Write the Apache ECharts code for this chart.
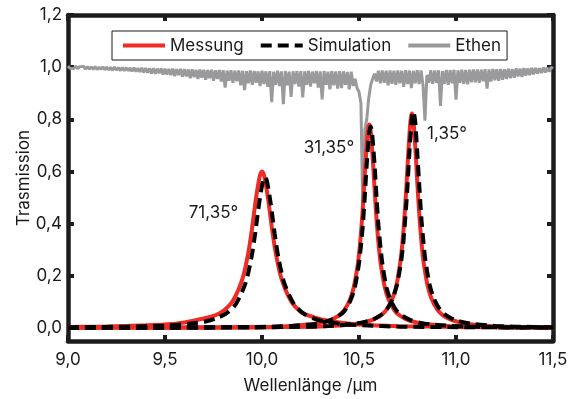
<!DOCTYPE html>
<html>
<head>
<meta charset="utf-8">
<script src="https://cdn.jsdelivr.net/npm/echarts@6/dist/echarts.min.js"></script>
<style>html,body{margin:0;padding:0;background:#fff}#c{width:578px;height:399px}</style>
</head>
<body>
<div id="c"></div>
<script>
// ---- Data ----
const xTicks = [9.0, 9.5, 10.0, 10.5, 11.0, 11.5];
const yTicks = [0, 0.2, 0.4, 0.6, 0.8, 1.0, 1.2];
const legendNames = ['Messung', 'Simulation', 'Ethen'];
const peakLabels = ['71,35°', '31,35°', '1,35°'];
const peakLabelPos = [[9.75, 0.44], [10.345, 0.69], [10.954, 0.745]];

// Ethen spectrum: x from 9.00 in steps of 0.01
const ethenStart = 9.0, ethenStep = 0.01;
const ethenY = [
1.004,0.996,1.003,0.995,1.004,0.994,1.002,0.995,1.003,0.993,
1.002,0.993,1.001,0.992,1.002,0.991,1.000,0.992,1.001,0.990,
1.000,0.990,0.999,0.988,1.000,0.989,0.998,0.987,0.999,0.986,
0.998,0.986,0.997,0.984,0.998,0.983,0.996,0.982,0.997,0.980,
0.996,0.979,0.995,0.976,0.996,0.975,0.994,0.977,0.995,0.972,
0.994,0.972,0.993,0.970,0.994,0.966,0.992,0.970,0.993,0.964,
0.992,0.965,0.991,0.958,0.992,0.962,0.990,0.955,0.991,0.960,
0.990,0.952,0.989,0.958,0.990,0.948,0.988,0.955,0.989,0.945,
0.988,0.922,0.987,0.948,0.988,0.940,0.986,0.946,0.987,0.930,
0.986,0.912,0.985,0.938,0.987,0.932,0.985,0.940,0.984,0.928,
0.986,0.935,0.984,0.925,0.985,0.866,0.983,0.932,0.986,0.928,
0.984,0.858,0.985,0.930,0.983,0.886,0.984,0.935,0.985,0.926,
0.985,0.884,0.984,0.932,0.986,0.926,0.983,0.938,0.985,0.922,
0.984,0.876,0.985,0.932,0.983,0.915,0.985,0.930,0.984,0.918,
0.985,0.920,0.984,0.932,0.982,0.915,0.983,0.928,0.955,0.920,
0.905,0.862,0.430,0.760,0.800,0.880,0.930,0.955,0.975,0.945,
0.986,0.938,0.987,0.940,0.986,0.930,0.987,0.936,0.986,0.932,
0.987,0.938,0.986,0.925,0.988,0.935,0.987,0.920,0.986,0.938,
0.988,0.935,0.987,0.930,0.795,0.970,0.940,0.988,0.936,0.987,
0.940,0.988,0.851,0.985,0.936,0.989,0.932,0.988,0.938,0.990,
0.875,0.988,0.940,0.990,0.936,0.989,0.934,0.990,0.942,0.991,
0.942,0.991,0.940,0.990,0.946,0.992,0.918,0.991,0.945,0.993,
0.950,0.992,0.948,0.993,0.952,0.992,0.955,0.994,0.958,0.993,
0.960,0.995,0.965,0.994,0.963,0.996,0.968,0.995,0.970,0.997,
0.973,0.997,0.976,0.996,0.978,0.998,0.980,0.998,0.983,0.999,
0.995
];

// Messung (measurement), peak 71,35°
const messA_x = [9.0,9.2,9.4,9.5,9.6,9.7,9.75,9.8,9.85,9.9,9.93,9.95,9.97,9.99,10.0,10.01,10.03,10.05,10.07,10.1,10.15,10.2,10.25,10.3,10.4,10.5,10.7,11.0,11.5];
const messA_y = [0.004,0.006,0.010,0.013,0.021,0.036,0.046,0.065,0.104,0.190,0.291,0.389,0.502,0.587,0.600,0.587,0.502,0.389,0.291,0.190,0.102,0.062,0.045,0.034,0.021,0.013,0.007,0.004,0.002];
// Messung, peak 31,35°
const messB_x = [9.0,9.5,9.8,10.053,10.153,10.253,10.303,10.353,10.393,10.423,10.453,10.473,10.493,10.503,10.513,10.523,10.533,10.543,10.548,10.553,10.558,10.563,10.573,10.583,10.593,10.603,10.613,10.633,10.653,10.683,10.713,10.753,10.803,10.853,10.953,11.053,11.3,11.5];
const messB_y = [0.001,0.002,0.003,0.005,0.008,0.014,0.020,0.030,0.046,0.067,0.108,0.156,0.240,0.304,0.390,0.499,0.624,0.734,0.768,0.780,0.768,0.734,0.624,0.499,0.390,0.304,0.240,0.156,0.108,0.067,0.046,0.030,0.020,0.014,0.008,0.005,0.002,0.001];
// Messung, peak 1,35°
const messC_x = [9.0,9.5,9.973,10.273,10.373,10.473,10.523,10.573,10.613,10.643,10.673,10.693,10.713,10.723,10.733,10.743,10.753,10.763,10.768,10.773,10.778,10.783,10.793,10.803,10.813,10.823,10.833,10.853,10.873,10.903,10.933,10.973,11.023,11.073,11.173,11.273,11.5];
const messC_y = [0.001,0.001,0.002,0.005,0.008,0.014,0.021,0.032,0.048,0.071,0.114,0.164,0.253,0.320,0.411,0.526,0.658,0.774,0.809,0.822,0.809,0.774,0.658,0.526,0.411,0.320,0.253,0.164,0.114,0.071,0.048,0.032,0.021,0.014,0.008,0.005,0.003];

// Simulation, peak 71,35°
const simA_x = [9.0,9.3,9.5,9.615,9.715,9.765,9.815,9.865,9.915,9.945,9.965,9.985,10.005,10.015,10.025,10.045,10.065,10.085,10.115,10.165,10.215,10.265,10.315,10.415,10.515,10.715,11.0,11.5];
const simA_y = [0.002,0.005,0.009,0.015,0.026,0.037,0.055,0.091,0.172,0.268,0.363,0.476,0.565,0.578,0.565,0.476,0.363,0.268,0.172,0.091,0.055,0.037,0.026,0.015,0.010,0.005,0.003,0.0015];
// Simulation, peak 31,35°
const simB_x = [9.0,9.5,9.8,10.045,10.148,10.251,10.302,10.354,10.395,10.426,10.457,10.478,10.498,10.508,10.519,10.529,10.539,10.550,10.555,10.560,10.565,10.570,10.581,10.591,10.601,10.612,10.622,10.642,10.663,10.694,10.725,10.766,10.818,10.869,10.972,11.075,11.3,11.5];
const simB_y = [0.001,0.002,0.003,0.005,0.008,0.0135,0.019,0.030,0.046,0.066,0.107,0.154,0.238,0.301,0.386,0.494,0.618,0.727,0.760,0.772,0.760,0.727,0.618,0.494,0.386,0.301,0.238,0.154,0.107,0.066,0.046,0.030,0.019,0.0135,0.008,0.005,0.002,0.001];
// Simulation, peak 1,35°
const simC_x = [9.0,9.5,9.95,10.255,10.36,10.465,10.518,10.57,10.612,10.644,10.675,10.696,10.717,10.728,10.738,10.749,10.759,10.770,10.775,10.780,10.785,10.791,10.801,10.812,10.822,10.833,10.843,10.864,10.885,10.917,10.948,10.990,11.043,11.095,11.2,11.305,11.5];
const simC_y = [0.001,0.001,0.002,0.005,0.008,0.0145,0.021,0.032,0.049,0.071,0.115,0.166,0.255,0.323,0.415,0.531,0.664,0.781,0.817,0.830,0.817,0.781,0.664,0.531,0.415,0.323,0.255,0.166,0.115,0.071,0.049,0.032,0.021,0.0145,0.008,0.005,0.003];

// ---- Build ----
const zip = (xs, ys) => xs.map((x, i) => [x, ys[i]]);
const ethenData = ethenY.map((y, i) => [+(ethenStart + i * ethenStep).toFixed(2), y]);
const FONT = "Inter, 'Liberation Sans', Arial, sans-serif";
const FS = 17;
const AX = '#1c1c1e';
const TXT = '#1a1a1a';
const fmt = v => Number(v).toFixed(1).replace('.', ',');

const redStyle = { color: '#ee2b24', width: 4 };
const blackStyle = { color: '#000000', width: 4, type: [11, 6] };

function lineSeries(name, data, style, z) {
  return { name, type: 'line', data, showSymbol: false, symbol: 'none', smooth: 0.25,
    lineStyle: style, itemStyle: { color: style.color }, z, silent: true, animation: false };
}

const series = [
  lineSeries('Ethen', ethenData, { color: '#9a9a9c', width: 3 }, 1),
  lineSeries('Messung', zip(messA_x, messA_y), redStyle, 2),
  lineSeries('Messung', zip(messB_x, messB_y), redStyle, 2),
  lineSeries('Messung', zip(messC_x, messC_y), redStyle, 2),
  lineSeries('Simulation', zip(simA_x, simA_y), blackStyle, 3),
  lineSeries('Simulation', zip(simB_x, simB_y), blackStyle, 3),
  lineSeries('Simulation', zip(simC_x, simC_y), blackStyle, 3)
];
series[0].smooth = false;
series[6].markPoint = {
  symbol: 'circle', symbolSize: 0, silent: true, animation: false,
  label: { show: true, position: 'inside', formatter: '{b}', color: TXT, fontSize: FS, fontFamily: FONT },
  data: peakLabels.map((t, i) => ({ name: t, coord: peakLabelPos[i] }))
};

const tickCommon = { show: true, inside: true, length: 6, lineStyle: { color: AX, width: 4 } };
const lineCommon = { show: true, onZero: false, lineStyle: { color: AX, width: 4.5 } };

const chart = echarts.init(document.getElementById('c'), null, { renderer: 'canvas' });
chart.setOption({
  animation: false,
  backgroundColor: '#ffffff',
  grid: { left: 68, right: 25, top: 15, bottom: 52, containLabel: false },
  legend: {
    data: legendNames, left: 112, top: 31, padding: [6, 6, 6, 9], itemGap: 15,
    itemWidth: 42, itemHeight: 14, borderColor: '#1a1a1a', borderWidth: 1, backgroundColor: '#fff',
    itemStyle: { opacity: 0 }, lineStyle: { width: 4 },
    textStyle: { fontSize: FS, fontFamily: FONT, color: TXT }, selectedMode: false
  },
  xAxis: [
    { type: 'value', min: 9, max: 11.5, interval: 0.5, position: 'bottom',
      axisLine: lineCommon, axisTick: tickCommon, splitLine: { show: false },
      axisLabel: { fontSize: FS, fontFamily: FONT, color: TXT, margin: 10, formatter: fmt },
      name: 'Wellenlänge /µm', nameLocation: 'middle', nameGap: 36,
      nameTextStyle: { fontSize: FS, fontFamily: FONT, color: TXT } },
    { type: 'value', min: 9, max: 11.5, interval: 0.5, position: 'top',
      axisLine: lineCommon, axisTick: tickCommon, axisLabel: { show: false }, splitLine: { show: false } }
  ],
  yAxis: [
    { type: 'value', min: -0.05, max: 1.2, position: 'left',
      axisLine: lineCommon,
      axisTick: Object.assign({}, tickCommon, { customValues: yTicks }),
      axisLabel: { customValues: yTicks, fontSize: FS, fontFamily: FONT, color: TXT, margin: 6, formatter: fmt },
      splitLine: { show: false },
      name: 'Trasmission', nameLocation: 'middle', nameGap: 36, nameRotate: 90, nameMoveOverlap: false,
      nameTextStyle: { fontSize: FS, fontFamily: FONT, color: TXT } },
    { type: 'value', min: -0.05, max: 1.2, position: 'right',
      axisLine: lineCommon,
      axisTick: Object.assign({}, tickCommon, { customValues: yTicks }),
      axisLabel: { show: false }, splitLine: { show: false } }
  ],
  series
});
</script>
</body>
</html>
